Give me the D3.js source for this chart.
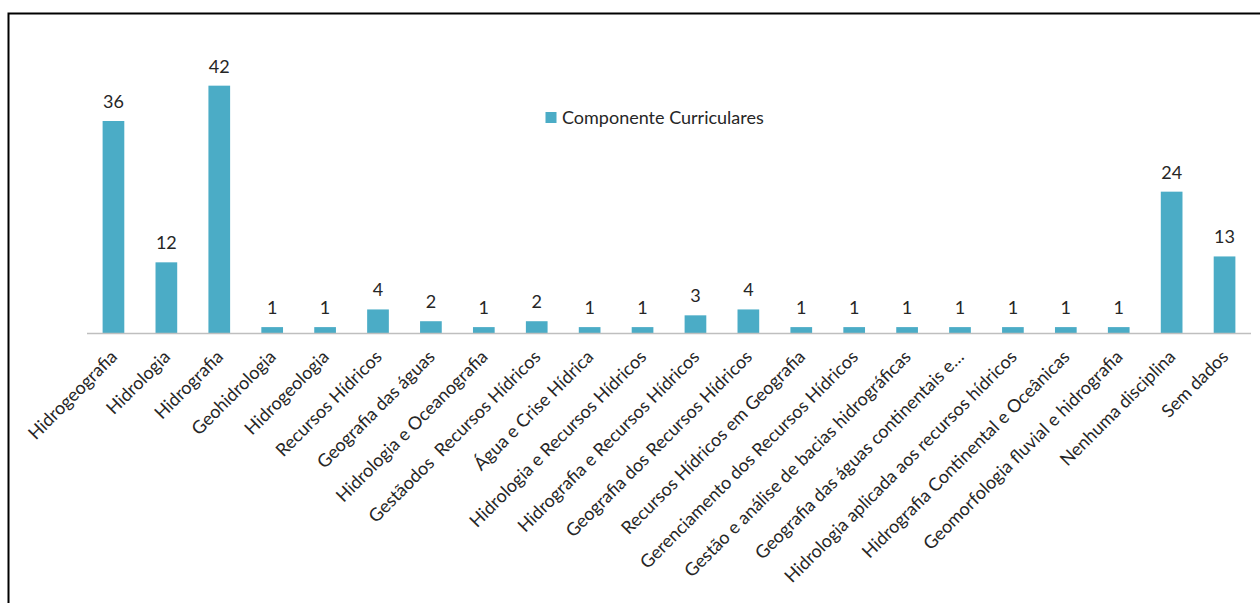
<!DOCTYPE html>
<html>
<head>
<meta charset="utf-8">
<script src="https://cdn.jsdelivr.net/npm/d3@7"></script>
<style>
  html, body { margin: 0; padding: 0; background: #fff; }
  svg { display: block; }
  text { font-family: Lato, "Open Sans", sans-serif; fill: #262626; white-space: pre; }
</style>
</head>
<body>
<svg id="chart" width="1260" height="603"></svg>
<script>
const categories = [
  "Hidrogeografia", "Hidrologia", "Hidrografia", "Geohidrologia", "Hidrogeologia",
  "Recursos Hídricos", "Geografia das águas", "Hidrologia e Oceanografia",
  "Gestãodos  Recursos Hídricos", "Água e Crise Hídrica", "Hidrologia e Recursos Hídricos",
  "Hidrografia e Recursos Hídricos", "Geografia dos Recursos Hídricos",
  "Recursos Hídricos em Geografia", "Gerenciamento dos Recursos Hídricos",
  "Gestão e análise de bacias hidrográficas", "Geografia das águas continentais e…",
  "Hidrologia aplicada aos recursos hídricos", "Hidrografia Continental e Oceânicas",
  "Geomorfologia fluvial e hidrografia", "Nenhuma disciplina", "Sem dados"
];
const values = [36, 12, 42, 1, 1, 4, 2, 1, 2, 1, 1, 3, 4, 1, 1, 1, 1, 1, 1, 1, 24, 13];
const seriesName = "Componente Curriculares";

const svg = d3.select("#chart");

// frame
svg.append("rect")
  .attr("x", 8.5).attr("y", 13.5)
  .attr("width", 1270).attr("height", 620)
  .attr("fill", "none").attr("stroke", "#000").attr("stroke-width", 2);

const x = d3.scaleBand().domain(categories).range([87, 1251]).paddingInner(0.59).paddingOuter(0.295);
const y = d3.scaleLinear().domain([0, 45]).range([333, 68]);

const color = "#4BACC6";
const fs = 18;

// bars
svg.append("g").selectAll("rect").data(values).join("rect")
  .attr("x", (d, i) => x(categories[i]))
  .attr("y", d => y(d))
  .attr("width", x.bandwidth())
  .attr("height", d => y(0) - y(d))
  .attr("fill", color);

// axis line
svg.append("line")
  .attr("x1", 87).attr("x2", 1251)
  .attr("y1", 333.5).attr("y2", 333.5)
  .attr("stroke", "#bfbfbf").attr("stroke-width", 1.5);

// value labels
svg.append("g").selectAll("text").data(values).join("text")
  .attr("x", (d, i) => x(categories[i]) + x.bandwidth() / 2)
  .attr("y", d => y(d) - 13)
  .attr("text-anchor", "middle")
  .attr("font-size", fs)
  .text(d => d);

// category labels
svg.append("g").selectAll("text").data(categories).join("text")
  .attr("transform", d => `translate(${x(d) + x.bandwidth() / 2 + 5},358) rotate(-45)`)
  .attr("text-anchor", "end")
  .attr("font-size", fs)
  .text(d => d);

// legend
const lg = svg.append("g");
lg.append("rect").attr("x", 545.5).attr("y", 112).attr("width", 11).attr("height", 11).attr("fill", color);
lg.append("text").attr("x", 562).attr("y", 123.5).attr("font-size", fs).text(seriesName);
</script>
</body>
</html>
